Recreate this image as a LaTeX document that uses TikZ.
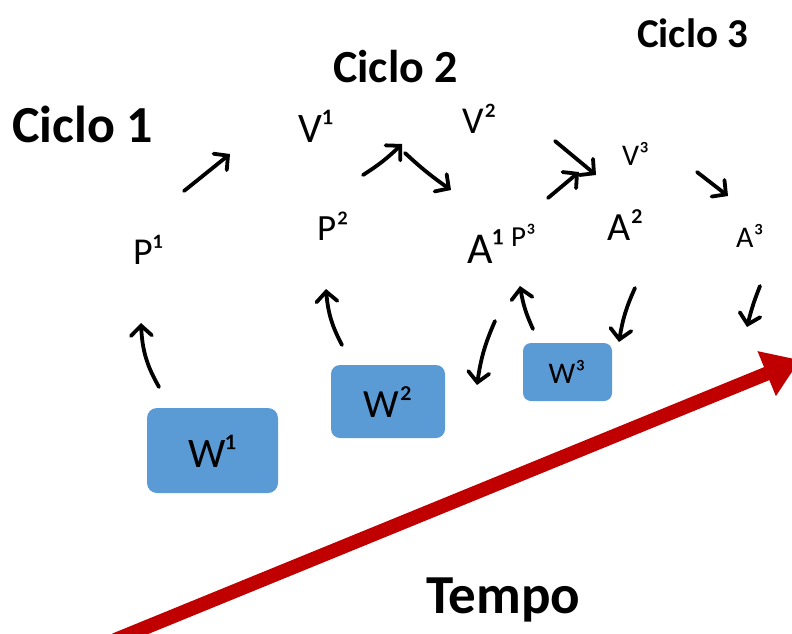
\documentclass[tikz,border=0pt]{standalone}
\usepackage{fontspec}
\setmainfont{Carlito}
\usetikzlibrary{arrows.meta,bending}
\definecolor{wblue}{HTML}{5B9BD5}
\definecolor{tred}{HTML}{C00000}
\begin{document}
\begin{tikzpicture}[x=1pt,y=-1pt,
  title/.style={font=\fontsize{#1}{#1}\selectfont\bfseries, inner sep=0pt, anchor=base west},
  lbl/.style={font=\fontsize{#1}{#1}\selectfont, inner sep=0pt, anchor=base west},
  wbox/.style={fill=wblue, draw=none, rounded corners=10pt},
  flow/.style={line width=3.8pt, line cap=round,
    -{Straight Barb[length=10pt,width=21pt,line cap=round]}},
  timeline/.style={tred, line width=14pt, -{Triangle[length=36pt,width=46pt]}}]
\useasboundingbox (0,0) rectangle (792,633);

% cycle titles
\node[title=52] (c1) at (12,142) {Ciclo 1};
\node[title=46] (c2) at (333,82) {Ciclo 2};
\node[title=41] (c3) at (637,47) {Ciclo 3};
\node[title=55] (tempo) at (426,613) {Tempo};

% phase labels
\node[lbl=38] (p1) at (133,264) {P¹};
\node[lbl=42] (v1) at (298,142) {V¹};
\node[lbl=38] (v2) at (462,133) {V²};
\node[lbl=37] (p2) at (317,240) {P²};
\node[lbl=44] (a1) at (467,263) {A¹};
\node[lbl=29] (p3) at (511,246) {P³};
\node[lbl=30] (v3) at (622,165) {V³};
\node[lbl=40] (a2) at (607,240) {A²};
\node[lbl=30] (a3) at (736,247) {A³};

% work boxes
\path[wbox] (147,408) rectangle (278,493);
\node[lbl=42, anchor=center] (w1) at (212,451) {W¹};
\path[wbox, rounded corners=9pt] (331,365) rectangle (445,438);
\node[lbl=40, anchor=center] (w2) at (388,402) {W²};
\path[wbox, rounded corners=8pt] (523,343) rectangle (612,401);
\node[lbl=30, anchor=center] (w3) at (567,372) {W³};

% arrow end points
\coordinate (a1t) at (184,191);  \coordinate (a1h) at (230,154);
\coordinate (a2t) at (159,387);  \coordinate (a2h) at (141,323);
\coordinate (a3t) at (342,345);  \coordinate (a3h) at (326,289);
\coordinate (a4t) at (363,175);  \coordinate (a4h) at (402,144);
\coordinate (a5t) at (405,153);  \coordinate (a5h) at (451,190);
\coordinate (a6t) at (548,198);  \coordinate (a6h) at (579,172);
\coordinate (a7t) at (555,141);  \coordinate (a7h) at (596,175);
\coordinate (a8t) at (697,172);  \coordinate (a8h) at (728,196);
\coordinate (a9t) at (495,321);  \coordinate (a9h) at (477,385);
\coordinate (a10t) at (533,329); \coordinate (a10h) at (520,286);
\coordinate (a11t) at (635,288); \coordinate (a11h) at (619,342);
\coordinate (a12t) at (760,286); \coordinate (a12h) at (747,327);

\draw[flow] (a1t) -- (a1h);
\draw[flow] (a2t) to[bend left=14] (a2h);
\draw[flow] (a3t) to[bend left=12] (a3h);
\draw[flow] (a4t) to[bend right=6] (a4h);
\draw[flow] (a5t) to[bend right=4] (a5h);
\draw[flow] (a6t) -- (a6h);
\draw[flow] (a7t) -- (a7h);
\draw[flow] (a8t) -- (a8h);
\draw[flow] (a9t) to[bend right=8] (a9h);
\draw[flow] (a10t) to[bend left=8] (a10h);
\draw[flow] (a11t) to[bend right=8] (a11h);
\draw[flow] (a12t) to[bend right=4] (a12h);

% time axis
\coordinate (ts) at (115,640);
\coordinate (te) at (800,360);
\draw[timeline] (ts) -- (te);
\end{tikzpicture}
\end{document}
